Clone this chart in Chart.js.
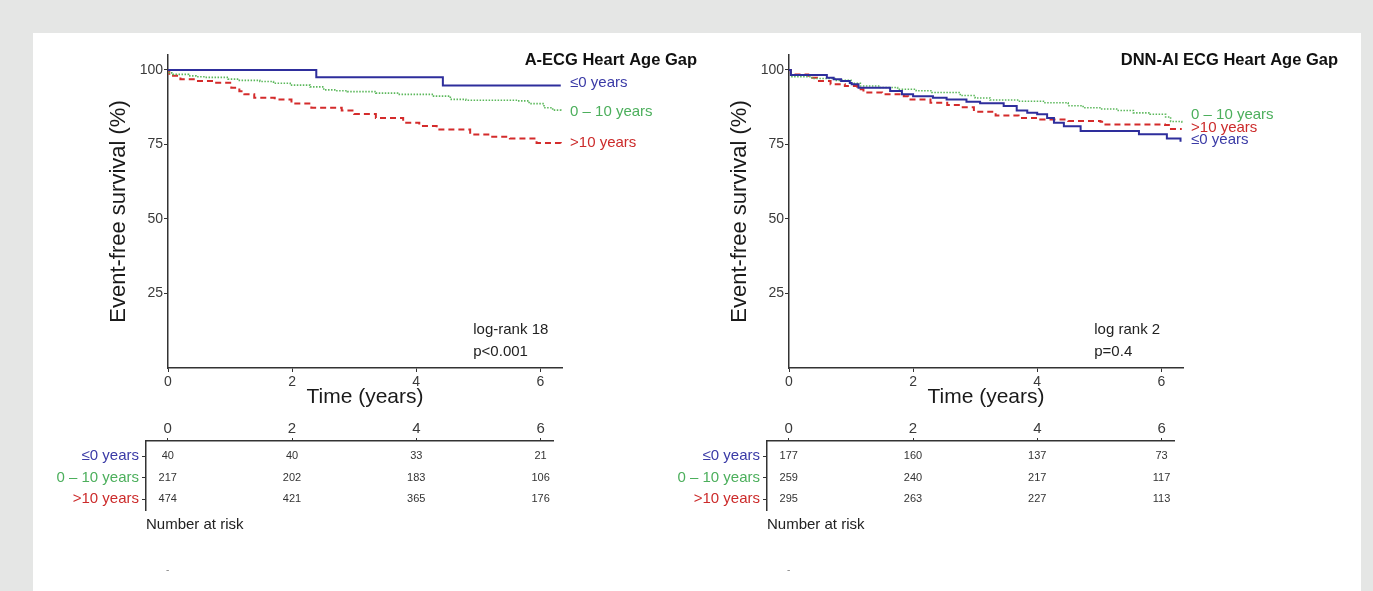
<!DOCTYPE html>
<html><head><meta charset="utf-8">
<script src="https://cdn.jsdelivr.net/npm/chart.js@4.4.0/dist/chart.umd.min.js"></script>
<style>
html,body{margin:0;padding:0;width:1373px;height:591px;overflow:hidden;background:#e5e6e5;}
#panel{position:absolute;left:33px;top:33px;width:1328px;height:558px;background:#fff;}
canvas{position:absolute;}
</style></head><body>
<div id="panel"></div>
<canvas id="kmL" width="706" height="390" style="left:33px;top:33px"></canvas>
<canvas id="kmR" width="706" height="390" style="left:654px;top:33px"></canvas>
<canvas id="riskL" width="706" height="181" style="left:33px;top:410px"></canvas>
<canvas id="riskR" width="706" height="181" style="left:654px;top:410px"></canvas>
<script>
const FONT = '"Liberation Sans", Arial, Helvetica, sans-serif';
Chart.defaults.font.family = FONT;

const groups = ['≤0 years', '0 – 10 years', '>10 years'];
const groupColors = ['#3a3aa6', '#4caf5c', '#cc2b2b'];
const lineColors = ['#2e2e9c', '#5cb85c', '#d42b2b'];
const xTicks = [0, 2, 4, 6];
const yTicks = [25, 50, 75, 100];
const riskTimes = [0, 2, 4, 6];

// ---- A-ECG Heart Age Gap ----
const aecgLe0T = [0, 2.39, 4.43, 6.33];
const aecgLe0S = [100, 97.5, 94.8, 94.8];
const aecg0to10T = [0, 0.02, 0.08, 0.33, 0.45, 0.6, 0.97, 1.15, 1.48, 1.7, 1.97, 2.29, 2.51, 2.7, 2.89, 3.35, 3.7, 4.28, 4.55, 4.8, 5.63, 5.82, 6.06, 6.2, 6.33];
const aecg0to10S = [100, 99.0, 98.5, 98.0, 97.7, 97.5, 96.9, 96.5, 96.1, 95.5, 94.9, 94.3, 93.3, 93.0, 92.7, 92.2, 91.8, 91.2, 90.1, 89.8, 89.6, 88.7, 87.3, 86.5, 86.2];
const aecgGt10T = [0, 0.02, 0.2, 0.45, 0.75, 1.02, 1.15, 1.23, 1.39, 1.72, 1.99, 2.31, 2.8, 3.0, 3.35, 3.79, 4.05, 4.33, 4.87, 5.2, 5.51, 5.94, 6.33];
const aecgGt10S = [100, 98.0, 96.9, 96.3, 95.7, 94.0, 92.8, 91.8, 90.7, 90.1, 88.7, 87.3, 86.4, 85.2, 83.9, 82.3, 81.2, 80.0, 78.3, 77.6, 77.0, 75.5, 75.0];
const aecgRiskLe0 = [40, 40, 33, 21];
const aecgRisk0to10 = [217, 202, 183, 106];
const aecgRiskGt10 = [474, 421, 365, 176];
const aecgEndLabelY = [95.5, 86.0, 75.4];
const aecgStat = ['log-rank 18', 'p<0.001'];

// ---- DNN-AI ECG Heart Age Gap ----
const dnnLe0T = [0, 0.03, 0.61, 0.72, 0.84, 0.98, 1.01, 1.12, 1.63, 1.82, 2.0, 2.32, 2.54, 2.86, 3.08, 3.46, 3.67, 3.84, 4.0, 4.16, 4.27, 4.43, 4.7, 5.64, 6.09, 6.31];
const dnnLe0S = [100, 98.3, 97.4, 96.9, 96.3, 95.6, 95.2, 94.0, 92.9, 91.8, 91.2, 90.7, 90.1, 89.3, 88.8, 87.9, 86.4, 85.6, 85.1, 83.9, 82.3, 81.1, 79.5, 78.4, 77.0, 75.9];
const dnn0to10T = [0, 0.03, 0.37, 0.74, 1.0, 1.15, 1.47, 1.75, 2.05, 2.3, 2.76, 3.0, 3.24, 3.7, 4.1, 4.5, 4.74, 5.04, 5.28, 5.55, 5.82, 6.07, 6.15, 6.33];
const dnn0to10S = [100, 97.7, 97.1, 96.5, 95.5, 94.6, 94.1, 93.5, 93.0, 92.4, 91.4, 90.6, 89.9, 89.5, 89.0, 88.0, 87.3, 86.9, 86.4, 85.6, 85.1, 84.2, 82.7, 82.2];
const dnnGt10T = [0, 0.03, 0.31, 0.45, 0.67, 0.9, 1.10, 1.2, 1.5, 1.85, 1.92, 2.28, 2.55, 2.76, 2.98, 3.33, 3.7, 4.05, 4.5, 5.02, 5.07, 6.06, 6.14, 6.33];
const dnnGt10S = [100, 98.5, 97.4, 96.3, 95.2, 94.6, 93.5, 92.4, 91.8, 91.2, 90.1, 89.0, 88.2, 87.5, 86.0, 84.7, 83.9, 83.4, 82.9, 82.6, 81.7, 81.5, 80.2, 80.2];
const dnnRiskLe0 = [177, 160, 137, 73];
const dnnRisk0to10 = [259, 240, 217, 117];
const dnnRiskGt10 = [295, 263, 227, 113];
const dnnEndLabelY = [76.5, 84.9, 80.6];
const dnnStat = ['log rank 2', 'p=0.4'];

function ds(t, s, k) {
  return {
    data: t.map((x, i) => ({x: x, y: s[i]})),
    borderColor: lineColors[k],
    borderWidth: k === 1 ? 1.6 : 2,
    borderDash: k === 0 ? [] : (k === 1 ? [1.5, 1.5] : [6, 4]),
    stepped: 'before', pointRadius: 0, fill: false, tension: 0
  };
}

function kmTextPlugin(cfg) {
  return {
    id: 'kmText',
    afterDraw(chart) {
      const {ctx} = chart; const x = chart.scales.x, y = chart.scales.y;
      ctx.save();
      ctx.textBaseline = 'middle';
      ctx.font = 'bold 16.5px ' + FONT; ctx.fillStyle = '#111'; ctx.textAlign = 'right';
      ctx.fillText(cfg.title, cfg.titleRight, 27);
      ctx.font = '15px ' + FONT; ctx.textAlign = 'left';
      groups.forEach((g, i) => {
        ctx.fillStyle = groupColors[i];
        ctx.fillText(g, x.getPixelForValue(6.48), y.getPixelForValue(cfg.labelY[i]));
      });
      ctx.fillStyle = '#222';
      ctx.fillText(cfg.stat[0], x.getPixelForValue(4.92), y.getPixelForValue(12.8));
      ctx.fillText(cfg.stat[1], x.getPixelForValue(4.92), y.getPixelForValue(5.4));
      ctx.restore();
    }
  };
}

function kmChart(id, datasets, cfg) {
  return new Chart(document.getElementById(id), {
    type: 'line',
    data: {datasets: datasets},
    options: {
      responsive: false, animation: false, devicePixelRatio: 1,
      layout: {padding: {left: 0, top: 22, right: 177, bottom: 0}},
      plugins: {legend: {display: false}, tooltip: {enabled: false}},
      scales: {
        x: {
          type: 'linear', min: 0, max: 6.35,
          afterBuildTicks: s => { s.ticks = xTicks.map(v => ({value: v})); },
          afterFit: s => { s.height = 55; },
          border: {display: true, color: '#333', width: 1.5},
          grid: {display: true, drawOnChartArea: false, drawTicks: true, tickLength: 4, color: '#333'},
          ticks: {color: '#3a3a3a', font: {size: 14}, padding: 2, maxRotation: 0, autoSkip: false},
          title: {display: true, text: 'Time (years)', color: '#1a1a1a', font: {size: 21}, padding: {top: 0, bottom: 13}}
        },
        y: {
          type: 'linear', min: 0, max: 105,
          afterBuildTicks: s => { s.ticks = yTicks.map(v => ({value: v})); },
          afterFit: s => { s.width = 135; },
          border: {display: true, color: '#333', width: 1.5},
          grid: {display: true, drawOnChartArea: false, drawTicks: true, tickLength: 4, color: '#333'},
          ticks: {color: '#3a3a3a', font: {size: 14}, padding: 1},
          title: {display: true, text: 'Event-free survival (%)', color: '#1a1a1a', font: {size: 22}, padding: {top: 73, bottom: 0}}
        }
      }
    },
    plugins: [kmTextPlugin(cfg)]
  });
}

function riskTextPlugin(rows) {
  return {
    id: 'riskText',
    afterDraw(chart) {
      const {ctx} = chart; const x = chart.scales.x, y = chart.scales.y;
      ctx.save();
      ctx.font = '11px ' + FONT; ctx.fillStyle = '#333';
      ctx.textAlign = 'center'; ctx.textBaseline = 'middle';
      rows.forEach((r, i) => r.forEach((n, j) => {
        ctx.fillText(String(n), x.getPixelForValue(riskTimes[j]), y.getPixelForValue(i));
      }));
      ctx.font = '15px ' + FONT; ctx.fillStyle = '#222'; ctx.textAlign = 'left';
      ctx.fillText('Number at risk', chart.chartArea.left, chart.chartArea.bottom + 15);
      ctx.font = '10px ' + FONT; ctx.fillStyle = '#888'; ctx.textAlign = 'center';
      ctx.fillText('-', x.getPixelForValue(0), chart.chartArea.bottom + 60);
      ctx.restore();
    }
  };
}

function riskChart(id, rows) {
  return new Chart(document.getElementById(id), {
    type: 'scatter',
    data: {datasets: []},
    options: {
      responsive: false, animation: false, devicePixelRatio: 1,
      layout: {padding: {left: 0, top: 0, right: 186, bottom: 81}},
      plugins: {legend: {display: false}, tooltip: {enabled: false}},
      scales: {
        x: {
          type: 'linear', position: 'top', min: -0.35, max: 6.2,
          afterBuildTicks: s => { s.ticks = xTicks.map(v => ({value: v})); },
          afterFit: s => { s.height = 31; },
          border: {display: true, color: '#333', width: 1.5},
          grid: {display: true, drawOnChartArea: false, drawTicks: true, tickLength: 3, color: '#333'},
          ticks: {color: '#3a3a3a', font: {size: 15}, padding: 0, maxRotation: 0, autoSkip: false}
        },
        y: {
          type: 'linear', reverse: true, min: -0.7, max: 2.5,
          afterBuildTicks: s => { s.ticks = [0, 1, 2].map(v => ({value: v})); },
          afterFit: s => { s.width = 113; },
          border: {display: true, color: '#333', width: 1.5},
          grid: {display: true, drawOnChartArea: false, drawTicks: true, tickLength: 4, color: '#333'},
          ticks: {callback: v => groups[v], color: c => groupColors[c.index], font: {size: 15}, padding: 3}
        }
      }
    },
    plugins: [riskTextPlugin(rows)]
  });
}

kmChart('kmL', [ds(aecgLe0T, aecgLe0S, 0), ds(aecg0to10T, aecg0to10S, 1), ds(aecgGt10T, aecgGt10S, 2)],
  {title: 'A-ECG Heart Age Gap', titleRight: 664, labelY: aecgEndLabelY, stat: aecgStat});
kmChart('kmR', [ds(dnnLe0T, dnnLe0S, 0), ds(dnn0to10T, dnn0to10S, 1), ds(dnnGt10T, dnnGt10S, 2)],
  {title: 'DNN-AI ECG Heart Age Gap', titleRight: 684, labelY: dnnEndLabelY, stat: dnnStat});
riskChart('riskL', [aecgRiskLe0, aecgRisk0to10, aecgRiskGt10]);
riskChart('riskR', [dnnRiskLe0, dnnRisk0to10, dnnRiskGt10]);
</script>
</body></html>
